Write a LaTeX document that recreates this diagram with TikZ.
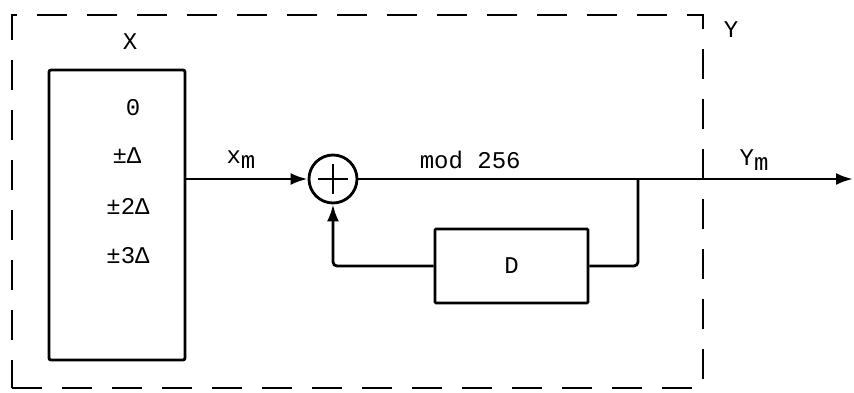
\documentclass[tikz,border=0pt]{standalone}
\usepackage{fontspec}
\setmonofont{Liberation Mono}
\usetikzlibrary{arrows.meta, positioning, calc}

\begin{document}
\begin{tikzpicture}[x=1pt, y=-1pt,
  line width=2.8pt,
  every node/.style={font=\ttfamily\fontsize{24}{28}\selectfont},
  box/.style={rectangle, draw, rounded corners=2pt, inner sep=0pt},
  lbl/.style={inner sep=0pt},
  arr/.style={-{Latex[length=17pt, width=12pt]}}
]
  \useasboundingbox (0,0) rectangle (854,393);
  % outer dashed frame
  \node[box, rounded corners=0pt, dash pattern=on 30pt off 20pt, minimum width=691pt, minimum height=373pt] (frame) at (357.5,201.5) {};
  \node[lbl] (ylbl) at (731,30) {Y};
  % source alphabet
  \node[box, minimum width=136pt, minimum height=290pt] (src) at (117,215) {};
  \node[lbl] (xlbl) at (130,42) {X};
  \node[lbl] (v0) at (133,108) {0};
  \node[lbl] (v1) at (127,156) {±Δ};
  \node[lbl] (v2) at (128,206) {±2Δ};
  \node[lbl] (v3) at (128,256) {±3Δ};
  % adder and delay
  \node[circle, draw, minimum size=48pt, inner sep=0pt] (sum) at (333,179) {};
  \draw ($(sum.center)+(-15,0)$) -- ($(sum.center)+(15,0)$)
        ($(sum.center)+(0,-15)$) -- ($(sum.center)+(0,15)$);
  \node[box, rounded corners=1pt, minimum width=153pt, minimum height=74pt] (delay) at (511.5,266) {D};
  \coordinate (branch) at (638,179);
  \coordinate (out) at (853,179);
  % connections
  \draw[arr] (src.east |- sum) -- node[lbl, above=9pt, pos=0.45] (xm) {x\raisebox{-5pt}{m}} (sum.west);
  \draw[arr] (sum.east) -- node[lbl, above=9pt, pos=0.4] (mod) {mod 256} (branch) -- (out);
  \draw[rounded corners=4pt] (branch) |- (delay.east);
  \draw[arr, rounded corners=4pt] (delay.west) -| (sum.south);
  \node[lbl] (ym) at (754,160) {Y\raisebox{-5pt}{m}};
\end{tikzpicture}
\end{document}
